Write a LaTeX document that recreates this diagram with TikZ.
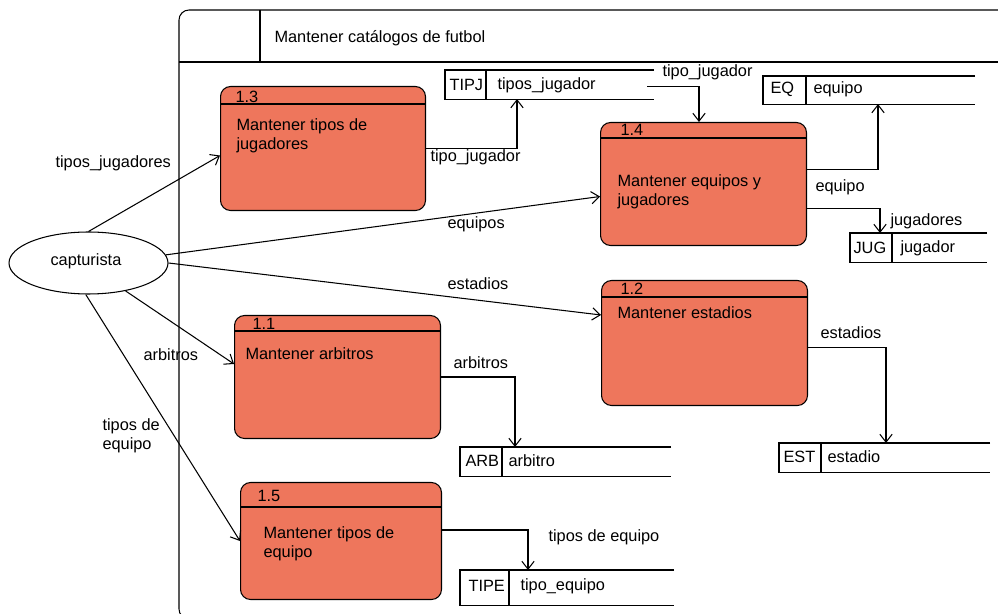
\documentclass[tikz,border=0pt]{standalone}
\usepackage{fontspec}
\setmainfont{Liberation Sans}
\usetikzlibrary{arrows.meta,calc,shapes.geometric}

\definecolor{procfill}{RGB}{238,118,92}

\tikzset{
  proc/.style = {draw, fill = procfill, rounded corners = 0.2cm, anchor = north west, inner sep = 0pt},
  store/.style = {anchor = north west, inner sep = 0pt},
  txt/.style = {anchor = west, inner sep = 0pt, align = left, font = \fontsize{9.3}{10.8}\selectfont},
  flow/.style = {-{Straight Barb[length=4.5pt,width=7pt]}}
}

\begin{document}
\begin{tikzpicture}[x = 0.02cm, y = -0.02cm, line width = 0.6pt]
        \useasboundingbox (0,0) rectangle (998,614);
        \clip (0,0) rectangle (998,614);
        
        % marco del diagrama
        \draw [rounded corners = 0.2cm] (1010,10) -- (179,10) -- (179,619) -- (230,619);
        \draw (179,62) -- (1010,62);
        \draw (260,10) -- (260,62);
        \node [txt] (titulo) at (274,38) {Mantener catálogos de futbol};
        
        % entidad externa
        \node [draw, ellipse, inner sep = 0pt, minimum width = 3.18cm, minimum height = 1.24cm] (capt) at (88.5,263) {};
        \node [txt] (captxt) at (50,261) {capturista};
        
        % procesos
        \node [proc, minimum width = 4.1cm, minimum height = 2.48cm] (p13) at (220,86) {};
        \draw ($(p13.north west)+(0,18)$) -- ($(p13.north east)+(0,18)$);
        \node [txt] (n13) at (235,97) {1.3};
        \node [txt] (t13) at (236,135.5) {Mantener tipos de\\jugadores};
        
        \node [proc, minimum width = 4.12cm, minimum height = 2.46cm] (p14) at (600,122) {};
        \draw ($(p14.north west)+(0,16)$) -- ($(p14.north east)+(0,16)$);
        \node [txt] (n14) at (620,130) {1.4};
        \node [txt] (t14) at (617,192) {Mantener equipos y\\jugadores};
        
        \node [proc, minimum width = 4.12cm, minimum height = 2.5cm] (p12) at (601,280) {};
        \draw ($(p12.north west)+(0,17)$) -- ($(p12.north east)+(0,17)$);
        \node [txt] (n12) at (620,289) {1.2};
        \node [txt] (t12) at (617,313) {Mantener estadios};
        
        \node [proc, minimum width = 4.12cm, minimum height = 2.46cm] (p11) at (234,315) {};
        \draw ($(p11.north west)+(0,16)$) -- ($(p11.north east)+(0,16)$);
        \node [txt] (n11) at (252,324) {1.1};
        \node [txt] (t11) at (245,354) {Mantener arbitros};
        
        \node [proc, minimum width = 4.02cm, minimum height = 2.34cm] (p15) at (240,482) {};
        \draw ($(p15.north west)+(0,25)$) -- ($(p15.north east)+(0,25)$);
        \node [txt] (n15) at (257,496) {1.5};
        \node [txt] (t15) at (263,544) {Mantener tipos de\\equipo};
        
        % almacenes
        \node [store, minimum width = 4.16cm, minimum height = 0.56cm] (tipj) at (445,70) {};
        \draw (tipj.north east) -- (tipj.north west) -- (tipj.south west) -- (tipj.south east);
        \draw ($(tipj.north west)+(41,0)$) -- ($(tipj.south west)+(41,0)$);
        \node [txt] (i_tipj) at (449,85) {TIPJ};
        \node [txt] (d_tipj) at (497,85) {tipos\_jugador};
        
        \node [store, minimum width = 4.22cm, minimum height = 0.54cm] (eq) at (763,76) {};
        \draw (eq.north east) -- (eq.north west) -- (eq.south west) -- (eq.south east);
        \draw ($(eq.north west)+(43,0)$) -- ($(eq.south west)+(43,0)$);
        \node [txt] (i_eq) at (770,89) {EQ};
        \node [txt] (d_eq) at (813,89) {equipo};
        
        \node [store, minimum width = 2.72cm, minimum height = 0.56cm] (jug) at (850,233) {};
        \draw (jug.north east) -- (jug.north west) -- (jug.south west) -- (jug.south east);
        \draw ($(jug.north west)+(42,0)$) -- ($(jug.south west)+(42,0)$);
        \node [txt] (i_jug) at (853,248) {JUG};
        \node [txt] (d_jug) at (900,248) {jugador};
        
        \node [store, minimum width = 4.2cm, minimum height = 0.56cm] (est) at (779,443) {};
        \draw (est.north east) -- (est.north west) -- (est.south west) -- (est.south east);
        \draw ($(est.north west)+(42,0)$) -- ($(est.south west)+(42,0)$);
        \node [txt] (i_est) at (783,457) {EST};
        \node [txt] (d_est) at (827,457) {estadio};
        
        \node [store, minimum width = 4.2cm, minimum height = 0.56cm] (arb) at (460,447) {};
        \draw (arb.north east) -- (arb.north west) -- (arb.south west) -- (arb.south east);
        \draw ($(arb.north west)+(42,0)$) -- ($(arb.south west)+(42,0)$);
        \node [txt] (i_arb) at (465,461) {ARB};
        \node [txt] (d_arb) at (508,461) {arbitro};
        
        \node [store, minimum width = 4.26cm, minimum height = 0.68cm] (tipe) at (460,570) {};
        \draw (tipe.north east) -- (tipe.north west) -- (tipe.south west) -- (tipe.south east);
        \draw ($(tipe.north west)+(49,0)$) -- ($(tipe.south west)+(49,0)$);
        \node [txt] (i_tipe) at (468,586) {TIPE};
        \node [txt] (d_tipe) at (520,586) {tipo\_equipo};
        
        % flujos desde capturista
        \draw [flow] (capt.north) -- ($(p13.west)+(0,7)$);
        \draw [flow] (capt.6) -- ($(p14.west)+(0,12.5)$);
        \draw [flow] (capt.east) -- ($(p12.north west)+(0,35)$);
        \draw [flow] (capt.-37) -- ($(p11.north west)+(0,49)$);
        \draw [flow] (capt.265) -- (p15.west);
        
        \node [txt] (f1) at (55,163) {tipos\_jugadores};
        \node [txt] (f2) at (447,224) {equipos};
        \node [txt] (f3) at (447,284) {estadios};
        \node [txt] (f4) at (143,355) {arbitros};
        \node [txt] (f5) at (102,435.5) {tipos de\\equipo};
        
        % flujos hacia almacenes
        \draw [flow] (p13.east) -| ($(tipj.south west)+(72,0)$);
        \draw [flow] ($(tipj.east)+(-7,2)$) -| ($(p14.north west)+(99,0)$);
        \draw [flow] ($(p14.east)+(0,-14.5)$) -| ($(eq.south west)+(115,0)$);
        \draw [flow] ($(p14.east)+(0,24.5)$) -| ($(jug.north west)+(30,0)$);
        \draw [flow] ($(p12.east)+(0,4.5)$) -| ($(est.north west)+(107,0)$);
        \draw [flow] (p11.east) -| ($(arb.north west)+(55,0)$);
        \draw [flow] ($(p15.east)+(0,-11)$) -| ($(tipe.north west)+(68,0)$);
        
        \node [txt] (g1) at (430,157) {tipo\_jugador};
        \node [txt] (g2) at (662,72) {tipo\_jugador};
        \node [txt] (g3) at (815,187) {equipo};
        \node [txt] (g4) at (890,221) {jugadores};
        \node [txt] (g5) at (820,333) {estadios};
        \node [txt] (g6) at (453,363) {arbitros};
        \node [txt] (g7) at (548,537) {tipos de equipo};
    \end{tikzpicture}
\end{document}
